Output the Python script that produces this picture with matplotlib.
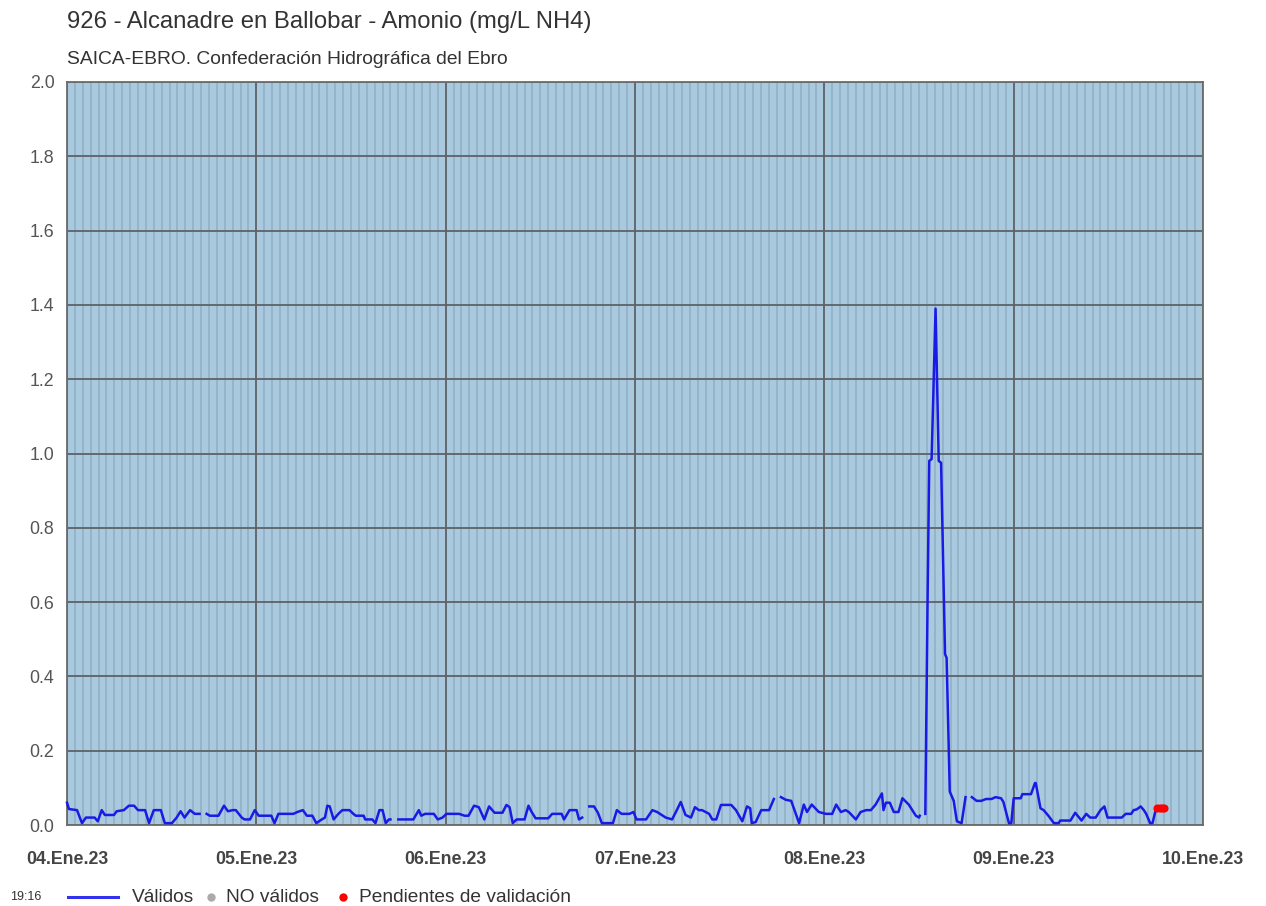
import numpy as np
import matplotlib
matplotlib.use("Agg")
import matplotlib.pyplot as plt
from matplotlib.lines import Line2D

plt.rcParams['font.family'] = ['Liberation Sans', 'DejaVu Sans']

# ---- data (hours since 04.Ene.23 00:00, mg/L NH4); NaN = gap ----
nan = np.nan
hours = [0.0, 0.25, 1.27, 1.9, 2.4, 3.5, 3.9, 4.4, 4.8, 5.95, 6.3, 7.2, 7.85, 8.5, 9.0, 9.9,
         10.4, 11.0, 11.9, 12.4, 13.3, 13.9, 14.4, 14.9, 15.6, 16.2, 16.8, 17.2,
         17.7, 18.1, 19.2, 19.9, 20.4, 21.0, 21.4, 22.15, 22.5, 23.2, 23.8, 24.3, 25.9, 26.3,
         26.8, 27.5, 28.7, 29.2, 29.9, 30.4, 31.1, 31.6, 32.3, 32.7, 33.0, 33.3, 33.8, 34.4,
         34.9, 35.8, 36.3, 36.6, 37.6, 37.8, 38.7, 39.1, 39.6, 40.0, 40.4, 40.8, 41.0, 41.5,
         42.0, 43.9, 44.6, 44.9, 45.4, 46.5, 47.0, 47.6, 48.1, 49.7, 50.4, 50.9, 51.6, 52.2,
         52.9, 53.5, 54.2, 55.2, 55.7, 56.1, 56.5, 57.0, 58.0, 58.5, 58.9, 59.4, 61.0, 61.5,
         62.7, 63.0, 63.7, 64.6, 64.9, 65.3, 65.7,
         66.2, 66.8, 67.3, 67.8, 69.2, 69.7, 70.3, 71.3, 71.8, 72.2, 73.4, 74.2, 74.8, 75.9,
         76.7, 77.3, 77.8, 78.4, 79.1, 79.6, 80.1, 80.5, 81.4, 81.8, 82.3, 82.9, 84.2, 84.8,
         85.6, 86.2, 86.6, 86.8, 87.3, 88.0, 89.0, 89.6, 90.0,
         90.5, 91.1, 91.8, 92.8, 93.4, 93.8, 94.4, 95.3, 96.2, 97.0, 97.5, 98.1, 98.7, 99.1,
         100.0, 100.6, 101.3, 101.9, 102.5, 103.3, 103.5, 103.8, 104.3, 104.8, 105.4, 105.9,
         106.7, 107.6, 108.0, 108.1, 108.5,
         108.8, 109.1, 109.3, 109.6, 110.1, 110.5, 110.8, 111.3, 111.5, 111.9, 112.4, 112.8,
         113.4, 113.9, 114.3,
         114.7, 115.3, 115.9, 116.5, 117.2, 117.7, 118.4, 118.7, 119.4, 119.7, 120.0, 120.9,
         121.1, 122.2, 122.7, 122.8, 123.4, 123.8, 124.4, 125.1, 125.7, 125.9, 127.2, 127.8,
         128.6, 129.2, 129.7, 130.4, 131.0, 131.5, 131.9, 133.7, 134.2, 134.9, 135.2, 135.6,
         136.1, 136.5, 136.8, 137.3, 137.6, 138.0]
values = [0.06, 0.043, 0.04, 0.005, 0.02, 0.02, 0.01, 0.04, 0.027, 0.027, 0.037, 0.04, 0.052, 0.052, 0.04, 0.04,
          0.005, 0.04, 0.04, 0.005, 0.005, 0.02, 0.037, 0.02, 0.04, 0.03, 0.03, nan,
          0.03, 0.025, 0.025, 0.052, 0.037, 0.04, 0.04, 0.02, 0.015, 0.015, 0.04, 0.025, 0.025, 0.005,
          0.03, 0.03, 0.03, 0.035, 0.04, 0.025, 0.025, 0.005, 0.015, 0.02, 0.052, 0.05, 0.015, 0.03,
          0.04, 0.04, 0.03, 0.025, 0.025, 0.015, 0.015, 0.005, 0.04, 0.04, 0.005, 0.015, 0.015, nan,
          0.015, 0.015, 0.04, 0.025, 0.03, 0.03, 0.015, 0.02, 0.03, 0.03, 0.025, 0.025, 0.052, 0.048,
          0.015, 0.05, 0.033, 0.033, 0.054, 0.048, 0.005, 0.015, 0.015, 0.052, 0.035, 0.018, 0.018, 0.03,
          0.03, 0.015, 0.04, 0.04, 0.015, 0.02, nan,
          0.05, 0.05, 0.033, 0.005, 0.005, 0.04, 0.03, 0.03, 0.035, 0.015, 0.015, 0.04, 0.035, 0.02,
          0.015, 0.04, 0.062, 0.027, 0.02, 0.048, 0.04, 0.04, 0.03, 0.015, 0.015, 0.054, 0.054, 0.04,
          0.01, 0.05, 0.045, 0.005, 0.008, 0.04, 0.04, 0.07, nan,
          0.075, 0.068, 0.065, 0.005, 0.055, 0.035, 0.055, 0.035, 0.03, 0.03, 0.055, 0.035, 0.04, 0.035,
          0.015, 0.035, 0.04, 0.04, 0.055, 0.085, 0.04, 0.06, 0.06, 0.035, 0.035, 0.072,
          0.055, 0.025, 0.02, 0.025, nan,
          0.03, 0.63, 0.98, 0.985, 1.39, 0.98, 0.975, 0.46, 0.45, 0.09, 0.065, 0.01,
          0.005, 0.075, nan,
          0.075, 0.065, 0.065, 0.07, 0.07, 0.075, 0.072, 0.062, 0.005, 0.005, 0.072, 0.072,
          0.083, 0.083, 0.113, 0.113, 0.045, 0.04, 0.025, 0.005, 0.005, 0.012, 0.012, 0.033,
          0.012, 0.03, 0.02, 0.02, 0.04, 0.05, 0.02, 0.02, 0.03, 0.03, 0.04, 0.042,
          0.05, 0.04, 0.03, 0.005, 0.005, 0.04]
pending_hours = [138.2, 138.5, 138.8, 139.1]
pending_values = [0.045, 0.045, 0.045, 0.045]

day_labels = ['04.Ene.23', '05.Ene.23', '06.Ene.23', '07.Ene.23', '08.Ene.23', '09.Ene.23', '10.Ene.23']
y_ticks = [0.0, 0.2, 0.4, 0.6, 0.8, 1.0, 1.2, 1.4, 1.6, 1.8, 2.0]

W, H = 1266, 906
fig = plt.figure(figsize=(W / 100, H / 100), dpi=100)
fig.patch.set_facecolor('white')
x0, x1, y0, y1 = 67, 1203, 82, 825
ax = fig.add_axes([x0 / W, 1 - y1 / H, (x1 - x0) / W, (y1 - y0) / H])
ax.set_facecolor('#a9c9df')

ax.set_xlim(0, 144)
ax.set_ylim(0, 2.0)
ax.set_xticks([24 * i for i in range(len(day_labels))])
ax.set_xticklabels(day_labels, fontsize=12.8, fontweight='bold', color='#444444')
ax.set_xticks(np.arange(0, 145, 1), minor=True)
ax.set_yticks(y_ticks)
ax.set_yticklabels([f'{v:.1f}' for v in y_ticks], fontsize=12.8, color='#555555')

ax.grid(True, which='minor', axis='x', color='#95b4c9', linewidth=1.4)
ax.grid(True, which='major', axis='both', color='#5e6266', linewidth=1.3)
ax.set_axisbelow(True)
ax.tick_params(axis='both', which='both', length=0)
ax.tick_params(axis='x', pad=19)
ax.tick_params(axis='y', pad=9)
for s in ax.spines.values():
    s.set_color('#6b6b6b')
    s.set_linewidth(1.3)

ax.plot(hours, values, color='#1a1ae6', linewidth=1.8, zorder=3, clip_on=False,
        solid_joinstyle='round')
ax.scatter(pending_hours, pending_values, s=34, color='#ff0000', zorder=4, linewidths=0)

# titles
fig.text(67 / W, 1 - 22 / H, '926 - Alcanadre en Ballobar - Amonio (mg/L NH4)',
         fontsize=17.2, color='#333333', va='center', ha='left')
fig.text(67 / W, 1 - 59 / H, 'SAICA-EBRO. Confederación Hidrográfica del Ebro',
         fontsize=13.9, color='#333333', va='center', ha='left')

# legend row
ly = 1 - 897 / H
fig.text(10 / W, ly, '19:16', fontsize=9, color='#333333', va='center', ha='left')
fig.add_artist(Line2D([68 / W, 118 / W], [ly, ly], color='#3333ee', linewidth=2.2))
fig.text(132 / W, ly, 'Válidos', fontsize=13.8, color='#333333', va='center', ha='left')
fig.add_artist(Line2D([211 / W], [ly], marker='o', markersize=5, color='#aaaaaa', linestyle='none'))
fig.text(226 / W, ly, 'NO válidos', fontsize=13.8, color='#333333', va='center', ha='left')
fig.add_artist(Line2D([343 / W], [ly], marker='o', markersize=5, color='#ff0000', linestyle='none'))
fig.text(359 / W, ly, 'Pendientes de validación', fontsize=13.8, color='#333333', va='center', ha='left')

fig.savefig('out.png', dpi=100)
